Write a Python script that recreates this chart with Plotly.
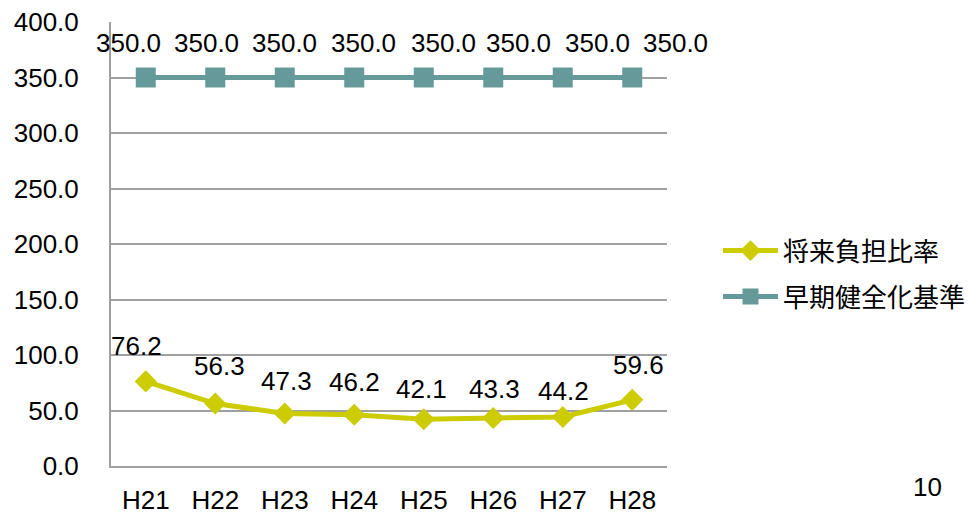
import plotly.graph_objects as go

# Fiscal years (Heisei era)
years = ["H21", "H22", "H23", "H24", "H25", "H26", "H27", "H28"]

# Future burden ratio (%)
burden_ratio = [76.2, 56.3, 47.3, 46.2, 42.1, 43.3, 44.2, 59.6]

# Early soundness standard (%)
early_standard = [350.0, 350.0, 350.0, 350.0, 350.0, 350.0, 350.0, 350.0]

y_ticks = [0, 50, 100, 150, 200, 250, 300, 350, 400]
page_number = "10"

YELLOW = "#cccc00"
TEAL = "#669999"
GRID = "#a0a0a0"
FONT = "Liberation Sans, Arial, sans-serif"
CJK = "Noto Sans CJK JP, sans-serif"
FS = 26

ML, MR = 111, 306
PLOT_W = 973 - ML - MR

fig = go.Figure()

fig.add_trace(go.Scatter(
    x=years, y=burden_ratio, name="将来負担比率", mode="lines+markers",
    line=dict(color=YELLOW, width=5),
    marker=dict(symbol="diamond", size=17, color=YELLOW),
    legendgroup="a",
))
fig.add_trace(go.Scatter(
    x=years, y=early_standard, name="早期健全化基準", mode="lines+markers",
    line=dict(color=TEAL, width=5),
    marker=dict(symbol="square", size=20, color=TEAL),
    legendgroup="b",
))

# Data-label placement (pixel offsets from each point)
burden_dx = [-9, 4, 2, 0, -2, 1, 1, 6]
burden_dy = [35, 38, 33, 33, 30, 29, 26, 35]
standard_dx = [-17, -8.5, 0, 9, 19.5, 25.5, 34.5, 43]
standard_dy = [35] * 8

annotations = []
for i, yr in enumerate(years):
    annotations.append(dict(
        x=yr, y=burden_ratio[i], text=f"{burden_ratio[i]:.1f}", showarrow=False,
        xshift=burden_dx[i], yshift=burden_dy[i],
        font=dict(family=FONT, size=FS, color="#000000"),
    ))
    annotations.append(dict(
        x=yr, y=early_standard[i], text=f"{early_standard[i]:.1f}", showarrow=False,
        xshift=standard_dx[i], yshift=standard_dy[i],
        font=dict(family=FONT, size=FS, color="#000000"),
    ))

# Page number, placed relative to the plot area
annotations.append(dict(
    x=(927 - ML) / PLOT_W, y=(466.5 - 488) / 444.5, xref="paper", yref="paper",
    xanchor="center", yanchor="middle", text=page_number, showarrow=False,
    font=dict(family=FONT, size=FS, color="#000000"),
))

fig.update_layout(
    width=973, height=514,
    margin=dict(l=ML, r=MR, t=22, b=47.5, autoexpand=False),
    paper_bgcolor="white", plot_bgcolor="white",
    showlegend=True,
    legend=dict(
        x=(718 - ML) / PLOT_W, y=(466.5 - 274) / 444.5,
        xanchor="left", yanchor="middle",
        font=dict(family=CJK, size=FS, color="#000000"),
        traceorder="grouped", tracegroupgap=9,
        itemwidth=55,
    ),
    xaxis=dict(
        type="category", range=[-0.5, 7.5], automargin=False,
        showgrid=False, showline=True, linecolor=GRID, linewidth=2,
        ticks="", ticklabelstandoff=10,
        tickfont=dict(family=FONT, size=FS, color="#000000"),
    ),
    yaxis=dict(
        range=[0, 400], tickvals=y_ticks, automargin=False,
        ticktext=[f"{v:.1f}" for v in y_ticks],
        showgrid=True, gridcolor=GRID, gridwidth=2,
        showline=True, linecolor=GRID, linewidth=2,
        zeroline=False, ticks="", ticklabelstandoff=25,
        tickfont=dict(family=FONT, size=FS, color="#000000"),
    ),
    annotations=annotations,
)

fig.write_html("out.html")
